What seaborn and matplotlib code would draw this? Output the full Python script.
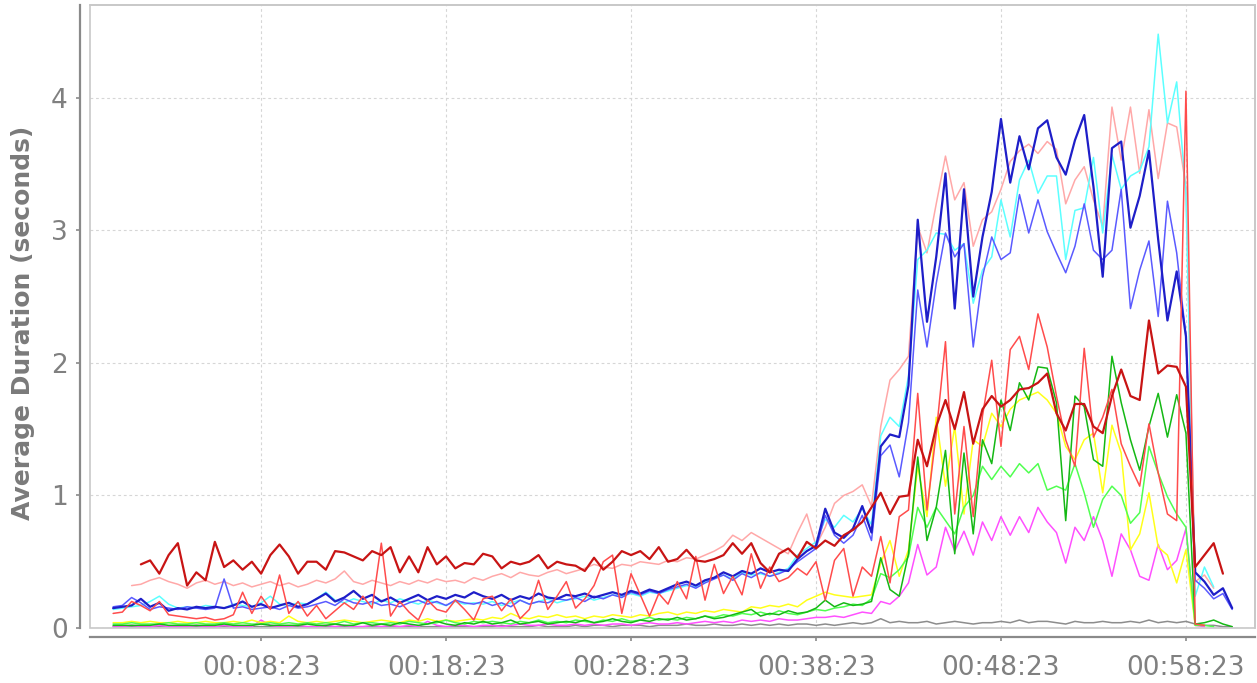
import numpy as np
import pandas as pd
import matplotlib
matplotlib.use("Agg")
import matplotlib.pyplot as plt
import seaborn as sns
from matplotlib.patches import Rectangle
from matplotlib.ticker import FuncFormatter

nan = np.nan

# sampling: one point every 30 s starting at 00:00:23
start_sec = 23
step_sec = 30
n_points = 122

x_tick_labels = ["00:08:23", "00:18:23", "00:28:23", "00:38:23", "00:48:23", "00:58:23"]
y_ticks = [0, 1, 2, 3, 4]

dark_blue = [
    0.15, 0.16, 0.17, 0.22, 0.16, 0.19, 0.13, 0.15, 0.14, 0.16,
    0.15, 0.16, 0.15, 0.17, 0.20, 0.16, 0.18, 0.15, 0.17, 0.19,
    0.16, 0.18, 0.22, 0.26, 0.20, 0.23, 0.28, 0.22, 0.25, 0.20,
    0.23, 0.19, 0.22, 0.25, 0.21, 0.24, 0.22, 0.25, 0.23, 0.27,
    0.24, 0.22, 0.25, 0.21, 0.24, 0.22, 0.26, 0.23, 0.22, 0.25,
    0.24, 0.26, 0.23, 0.25, 0.27, 0.25, 0.28, 0.26, 0.29, 0.27,
    0.30, 0.33, 0.35, 0.32, 0.36, 0.38, 0.42, 0.39, 0.43, 0.41,
    0.45, 0.42, 0.44, 0.43, 0.52, 0.58, 0.62, 0.90, 0.72, 0.68,
    0.75, 0.92, 0.72, 1.37, 1.46, 1.44, 1.83, 3.08, 2.31, 2.80,
    3.43, 2.41, 3.31, 2.50, 2.95, 3.29, 3.84, 3.36, 3.71, 3.46,
    3.77, 3.83, 3.55, 3.42, 3.68, 3.87, 3.33, 2.65, 3.62, 3.67,
    3.02, 3.26, 3.60, 2.93, 2.32, 2.69, 2.20, 0.42, 0.35, 0.25,
    0.30, 0.15,
]

mid_blue = [
    0.16, 0.17, 0.23, 0.19, 0.14, 0.16, 0.15, 0.14, 0.16, 0.15,
    0.14, 0.15, 0.37, 0.15, 0.16, 0.14, 0.15, 0.16, 0.14, 0.17,
    0.15, 0.16, 0.18, 0.20, 0.17, 0.22, 0.19, 0.18, 0.20, 0.17,
    0.18, 0.16, 0.19, 0.21, 0.18, 0.20, 0.17, 0.21, 0.19, 0.18,
    0.20, 0.17, 0.19, 0.16, 0.21, 0.18, 0.20, 0.19, 0.22, 0.21,
    0.23, 0.20, 0.24, 0.22, 0.25, 0.23, 0.27, 0.25, 0.28, 0.26,
    0.29, 0.31, 0.33, 0.30, 0.34, 0.37, 0.40, 0.36, 0.41, 0.38,
    0.42, 0.39, 0.41, 0.44, 0.50, 0.55, 0.60, 0.85, 0.70, 0.64,
    0.70, 0.85, 0.66, 1.30, 1.38, 1.14, 1.55, 2.55, 2.12, 2.60,
    2.98, 2.80, 2.90, 2.12, 2.65, 2.95, 2.78, 2.83, 3.27, 2.98,
    3.23, 2.99, 2.83, 2.68, 2.88, 3.20, 2.85, 2.78, 2.85, 3.31,
    2.41, 2.70, 2.92, 2.35, 3.22, 2.83, 2.20, 0.36, 0.30, 0.22,
    0.26, 0.14,
]

cyan = [
    0.14, 0.15, 0.16, 0.17, 0.20, 0.24, 0.18, 0.15, 0.16, 0.15,
    0.17, 0.16, 0.15, 0.18, 0.17, 0.16, 0.19, 0.24, 0.18, 0.17,
    0.19, 0.18, 0.22, 0.27, 0.21, 0.19, 0.22, 0.20, 0.18, 0.21,
    0.19, 0.22, 0.20, 0.18, 0.21, 0.19, 0.17, 0.20, 0.18, 0.19,
    0.18, 0.20, 0.17, 0.19, 0.21, 0.18, 0.20, 0.22, 0.19, 0.21,
    0.22, 0.24, 0.21, 0.23, 0.25, 0.24, 0.26, 0.24, 0.27, 0.26,
    0.28, 0.30, 0.32, 0.31, 0.35, 0.38, 0.40, 0.37, 0.42, 0.40,
    0.41, 0.39, 0.42, 0.45, 0.55, 0.60, 0.65, 0.82, 0.76, 0.85,
    0.80, 0.90, 0.78, 1.45, 1.59, 1.52, 1.90, 2.78, 2.85, 2.98,
    2.97, 2.85, 2.90, 2.45, 2.70, 2.80, 3.23, 2.95, 3.38, 3.53,
    3.28, 3.41, 3.41, 2.78, 3.15, 3.17, 3.55, 2.98, 3.57, 3.31,
    3.41, 3.45, 3.63, 4.48, 3.81, 4.12, 3.28, 0.24, 0.46, 0.31,
    nan, nan,
]

light_pink = [
    nan, nan, 0.32, 0.33, 0.36, 0.38, 0.35, 0.33, 0.30, 0.34,
    0.36, 0.33, 0.35, 0.32, 0.34, 0.31, 0.33, 0.35, 0.32, 0.34,
    0.31, 0.33, 0.36, 0.34, 0.37, 0.43, 0.35, 0.33, 0.36, 0.34,
    0.32, 0.35, 0.33, 0.36, 0.34, 0.37, 0.35, 0.36, 0.34, 0.38,
    0.36, 0.39, 0.41, 0.38, 0.42, 0.40, 0.39, 0.42, 0.44, 0.41,
    0.43, 0.45, 0.48, 0.46, 0.45, 0.48, 0.47, 0.50, 0.49, 0.48,
    0.51, 0.50, 0.53, 0.52, 0.55, 0.58, 0.62, 0.70, 0.66, 0.72,
    0.68, 0.64, 0.60, 0.56, 0.72, 0.86, 0.62, 0.76, 0.94, 1.00,
    1.03, 1.08, 0.92, 1.52, 1.87, 1.95, 2.05, 3.03, 2.83, 3.20,
    3.56, 3.23, 3.36, 2.88, 3.08, 3.14, 3.31, 3.52, 3.60, 3.65,
    3.58, 3.67, 3.61, 3.20, 3.38, 3.48, 3.23, 3.03, 3.93, 3.53,
    3.93, 3.43, 3.91, 3.39, 3.81, 3.78, 3.33, 0.35, 0.40, 0.30,
    nan, nan,
]

dark_red = [
    nan, nan, nan, 0.48, 0.51, 0.41, 0.55, 0.64, 0.32, 0.42,
    0.36, 0.65, 0.46, 0.51, 0.44, 0.50, 0.41, 0.55, 0.63, 0.54,
    0.41, 0.50, 0.50, 0.44, 0.58, 0.57, 0.54, 0.51, 0.58, 0.55,
    0.61, 0.42, 0.54, 0.42, 0.61, 0.48, 0.54, 0.45, 0.49, 0.48,
    0.56, 0.54, 0.45, 0.50, 0.48, 0.50, 0.55, 0.45, 0.50, 0.48,
    0.47, 0.43, 0.53, 0.44, 0.50, 0.58, 0.55, 0.58, 0.52, 0.61,
    0.50, 0.52, 0.59, 0.51, 0.50, 0.52, 0.55, 0.64, 0.56, 0.64,
    0.49, 0.42, 0.56, 0.60, 0.53, 0.65, 0.60, 0.66, 0.62, 0.70,
    0.74, 0.80, 0.91, 1.02, 0.86, 0.99, 1.00, 1.42, 1.22, 1.52,
    1.72, 1.50, 1.78, 1.39, 1.65, 1.75, 1.67, 1.72, 1.80, 1.81,
    1.85, 1.92, 1.62, 1.49, 1.69, 1.69, 1.52, 1.47, 1.75, 1.95,
    1.75, 1.72, 2.32, 1.92, 1.98, 1.97, 1.82, 0.46, 0.55, 0.64,
    0.41, nan,
]

red = [
    0.11, 0.12, 0.20, 0.17, 0.13, 0.20, 0.10, 0.09, 0.08, 0.07,
    0.08, 0.06, 0.07, 0.10, 0.27, 0.11, 0.24, 0.14, 0.40, 0.11,
    0.20, 0.09, 0.17, 0.07, 0.13, 0.19, 0.14, 0.24, 0.15, 0.64,
    0.09, 0.20, 0.12, 0.06, 0.21, 0.14, 0.12, 0.21, 0.14, 0.06,
    0.22, 0.24, 0.13, 0.22, 0.07, 0.14, 0.36, 0.14, 0.24, 0.35,
    0.15, 0.22, 0.32, 0.50, 0.55, 0.11, 0.41, 0.25, 0.09, 0.26,
    0.18, 0.35, 0.22, 0.54, 0.21, 0.48, 0.26, 0.39, 0.25, 0.56,
    0.30, 0.46, 0.35, 0.38, 0.45, 0.40, 0.50, 0.21, 0.51, 0.60,
    0.24, 0.46, 0.39, 0.69, 0.34, 0.84, 0.89, 1.77, 0.89, 1.47,
    2.16, 0.86, 1.52, 0.84, 1.60, 2.02, 1.37, 2.10, 2.20, 1.95,
    2.37, 2.12, 1.75, 1.42, 1.22, 2.11, 1.44, 1.59, 1.80, 1.39,
    1.22, 1.07, 1.54, 1.17, 0.86, 0.81, 4.05, 0.03, 0.02, nan,
    nan, nan,
]

green = [
    0.02, 0.02, 0.02, 0.02, 0.02, 0.03, 0.02, 0.02, 0.02, 0.02,
    0.02, 0.02, 0.03, 0.02, 0.02, 0.02, 0.03, 0.02, 0.02, 0.02,
    0.02, 0.03, 0.02, 0.02, 0.03, 0.02, 0.02, 0.04, 0.02, 0.03,
    0.02, 0.04, 0.03, 0.02, 0.03, 0.05, 0.03, 0.02, 0.04, 0.03,
    0.05, 0.03, 0.04, 0.06, 0.03, 0.04, 0.05, 0.03, 0.04, 0.05,
    0.04, 0.06, 0.04, 0.05, 0.07, 0.05, 0.04, 0.06, 0.05, 0.07,
    0.06, 0.08, 0.06, 0.07, 0.09, 0.07, 0.08, 0.10, 0.12, 0.14,
    0.09, 0.11, 0.10, 0.13, 0.11, 0.12, 0.15, 0.21, 0.16, 0.19,
    0.17, 0.18, 0.20, 0.53, 0.29, 0.24, 0.56, 1.29, 0.66, 0.91,
    1.34, 0.56, 1.32, 0.71, 1.42, 1.24, 1.72, 1.49, 1.85, 1.72,
    1.97, 1.96, 1.70, 0.81, 1.75, 1.67, 1.27, 1.22, 2.05, 1.70,
    1.42, 1.19, 1.52, 1.77, 1.44, 1.76, 1.47, 0.03, 0.04, 0.06,
    0.03, 0.01,
]

light_green = [
    0.03, 0.03, 0.04, 0.03, 0.03, 0.03, 0.04, 0.03, 0.03, 0.04,
    0.03, 0.03, 0.04, 0.03, 0.04, 0.03, 0.03, 0.04, 0.03, 0.04,
    0.03, 0.04, 0.03, 0.04, 0.03, 0.05, 0.03, 0.04, 0.04, 0.03,
    0.04, 0.03, 0.05, 0.04, 0.03, 0.04, 0.06, 0.04, 0.03, 0.05,
    0.04, 0.05, 0.04, 0.03, 0.05, 0.04, 0.06, 0.04, 0.05, 0.04,
    0.06, 0.05, 0.04, 0.06, 0.05, 0.07, 0.05, 0.06, 0.08, 0.06,
    0.07, 0.06, 0.08, 0.07, 0.09, 0.08, 0.10, 0.09, 0.11, 0.10,
    0.12, 0.10, 0.13, 0.11, 0.10, 0.12, 0.14, 0.13, 0.15, 0.16,
    0.18, 0.17, 0.22, 0.41, 0.38, 0.44, 0.54, 0.91, 0.76, 0.91,
    0.81, 0.71, 0.91, 1.00, 1.22, 1.12, 1.22, 1.14, 1.24, 1.17,
    1.24, 1.04, 1.07, 1.04, 1.24, 1.02, 0.76, 0.97, 1.07, 1.00,
    0.79, 0.87, 1.37, 1.17, 0.99, 0.86, 0.76, 0.02, 0.02, 0.01,
    nan, nan,
]

yellow = [
    0.04, 0.04, 0.05, 0.04, 0.05, 0.04, 0.04, 0.05, 0.04, 0.04,
    0.05, 0.04, 0.04, 0.05, 0.04, 0.06, 0.04, 0.05, 0.04, 0.09,
    0.05, 0.04, 0.05, 0.04, 0.05, 0.06, 0.05, 0.04, 0.05, 0.06,
    0.05, 0.04, 0.06, 0.05, 0.07, 0.05, 0.06, 0.05, 0.06, 0.07,
    0.06, 0.08, 0.07, 0.11, 0.08, 0.07, 0.09, 0.08, 0.10, 0.08,
    0.09, 0.07, 0.09, 0.08, 0.10, 0.09, 0.08, 0.10, 0.09, 0.11,
    0.12, 0.10, 0.12, 0.11, 0.13, 0.12, 0.14, 0.13, 0.12, 0.16,
    0.15, 0.17, 0.16, 0.18, 0.16, 0.21, 0.24, 0.27, 0.25, 0.24,
    0.23, 0.24, 0.25, 0.49, 0.66, 0.39, 0.59, 1.22, 0.84, 1.59,
    1.07, 1.52, 0.86, 1.42, 1.37, 1.62, 1.52, 1.65, 1.72, 1.75,
    1.78, 1.72, 1.62, 1.37, 1.27, 1.42, 1.47, 1.02, 1.53, 1.32,
    0.59, 0.71, 1.02, 0.61, 0.55, 0.34, 0.59, 0.02, 0.02, nan,
    nan, nan,
]

magenta = [
    0.01, 0.01, 0.02, 0.01, 0.01, 0.02, 0.01, 0.01, 0.01, 0.02,
    0.01, 0.01, 0.02, 0.01, 0.01, 0.01, 0.06, 0.02, 0.01, 0.01,
    0.02, 0.01, 0.01, 0.02, 0.01, 0.02, 0.01, 0.01, 0.02, 0.01,
    0.02, 0.01, 0.02, 0.01, 0.05, 0.02, 0.01, 0.02, 0.02, 0.01,
    0.02, 0.02, 0.01, 0.02, 0.03, 0.02, 0.02, 0.03, 0.02, 0.02,
    0.03, 0.02, 0.03, 0.02, 0.03, 0.03, 0.02, 0.03, 0.04, 0.03,
    0.03, 0.04, 0.03, 0.04, 0.05, 0.04, 0.05, 0.04, 0.06, 0.05,
    0.06, 0.05, 0.07, 0.06, 0.06, 0.07, 0.08, 0.08, 0.09, 0.08,
    0.10, 0.12, 0.11, 0.20, 0.18, 0.24, 0.34, 0.63, 0.40, 0.46,
    0.76, 0.58, 0.73, 0.55, 0.80, 0.66, 0.84, 0.70, 0.84, 0.72,
    0.91, 0.80, 0.72, 0.49, 0.76, 0.66, 0.84, 0.66, 0.39, 0.71,
    0.59, 0.39, 0.36, 0.63, 0.44, 0.51, 0.75, 0.02, 0.01, nan,
    nan, nan,
]

gray = [
    0.01, 0.01, 0.01, 0.01, 0.01, 0.01, 0.01, 0.01, 0.01, 0.01,
    0.01, 0.01, 0.01, 0.01, 0.01, 0.01, 0.01, 0.01, 0.01, 0.01,
    0.01, 0.01, 0.01, 0.01, 0.01, 0.01, 0.01, 0.01, 0.01, 0.01,
    0.01, 0.01, 0.01, 0.01, 0.01, 0.01, 0.01, 0.01, 0.01, 0.01,
    0.01, 0.01, 0.02, 0.01, 0.01, 0.01, 0.02, 0.01, 0.01, 0.01,
    0.02, 0.01, 0.02, 0.02, 0.01, 0.02, 0.02, 0.02, 0.01, 0.02,
    0.02, 0.02, 0.03, 0.02, 0.02, 0.03, 0.02, 0.02, 0.03, 0.02,
    0.03, 0.02, 0.03, 0.02, 0.03, 0.03, 0.02, 0.03, 0.02, 0.03,
    0.04, 0.03, 0.04, 0.07, 0.04, 0.05, 0.04, 0.04, 0.05, 0.03,
    0.04, 0.05, 0.04, 0.03, 0.04, 0.04, 0.05, 0.04, 0.06, 0.04,
    0.05, 0.05, 0.04, 0.03, 0.05, 0.04, 0.04, 0.05, 0.04, 0.04,
    0.05, 0.04, 0.06, 0.04, 0.05, 0.04, 0.05, 0.03, 0.02, 0.02,
    0.01, 0.01,
]

# drawing order (first = bottom), colour, line width
series = [
    ("gray", gray, "#8c8c8c", 1.1),
    ("magenta", magenta, "#ff50ff", 1.1),
    ("yellow", yellow, "#ffff1a", 1.1),
    ("light_green", light_green, "#50ff50", 1.1),
    ("green", green, "#14b814", 1.1),
    ("light_pink", light_pink, "#ffa8a8", 1.1),
    ("cyan", cyan, "#5cffff", 1.1),
    ("mid_blue", mid_blue, "#5a5aff", 1.1),
    ("dark_blue", dark_blue, "#1e1ec8", 1.6),
    ("red", red, "#ff4c4c", 1.1),
    ("dark_red", dark_red, "#c81414", 1.6),
]


def to_sec(label):
    h, m, s = (int(p) for p in label.split(":"))
    return h * 3600 + m * 60 + s


def hms(x, pos):
    s = int(round(x))
    return f"{s // 3600:02d}:{(s % 3600) // 60:02d}:{s % 60:02d}"


elapsed = start_sec + step_sec * np.arange(n_points)
frames = []
for name, vals, _, _ in series:
    frames.append(pd.DataFrame({"elapsed": elapsed, "duration": vals, "series": name}))
df = pd.concat(frames, ignore_index=True)

sns.set_theme(style="white")
plt.rcParams["font.family"] = ["DejaVu Sans"]

fig = plt.figure(figsize=(12.57, 6.83), dpi=100)
ax = fig.add_axes([90 / 1257, 55 / 683, 1165 / 1257, 623 / 683])

for name, _, color, lw in series:
    sub = df[df["series"] == name].dropna()
    sns.lineplot(data=sub, x="elapsed", y="duration", color=color, lw=lw,
                 estimator=None, sort=False, ax=ax)

ax.set_xlim(-52, 3727)
ax.set_ylim(0, 4.70)
ax.set_xticks([to_sec(t) for t in x_tick_labels])
ax.xaxis.set_major_formatter(FuncFormatter(hms))
ax.set_yticks(y_ticks)

ax.grid(True, color="#d6d6d6", linestyle=(0, (2.5, 2.5)), linewidth=0.8)
ax.set_axisbelow(True)

# plot frame (light) plus offset axis lines (darker)
for side in ["top", "right"]:
    ax.spines[side].set_color("#c8c8c8")
    ax.spines[side].set_linewidth(1.2)
ax.add_patch(Rectangle((0, 0), 1, 1, transform=ax.transAxes, fill=False,
                       edgecolor="#c8c8c8", linewidth=1.2, clip_on=False, zorder=5))
ax.spines["left"].set_position(("outward", 7))
ax.spines["bottom"].set_position(("outward", 6.5))
for side in ["left", "bottom"]:
    ax.spines[side].set_color("#8a8a8a")
    ax.spines[side].set_linewidth(1.6)

ax.tick_params(axis="both", which="major", direction="out", length=3,
               width=1.2, color="#8a8a8a", labelcolor="#808080", labelsize=19,
               bottom=True, left=True)
ax.tick_params(axis="y", pad=6)
ax.tick_params(axis="x", pad=10)

ax.set_xlabel("")
ax.set_ylabel("Average Duration (seconds)", fontsize=18, color="#7a7a7a",
              fontweight="bold")
ax.yaxis.set_label_coords(-0.047, 0.49)

fig.savefig("out.png", dpi=100, facecolor="white")
